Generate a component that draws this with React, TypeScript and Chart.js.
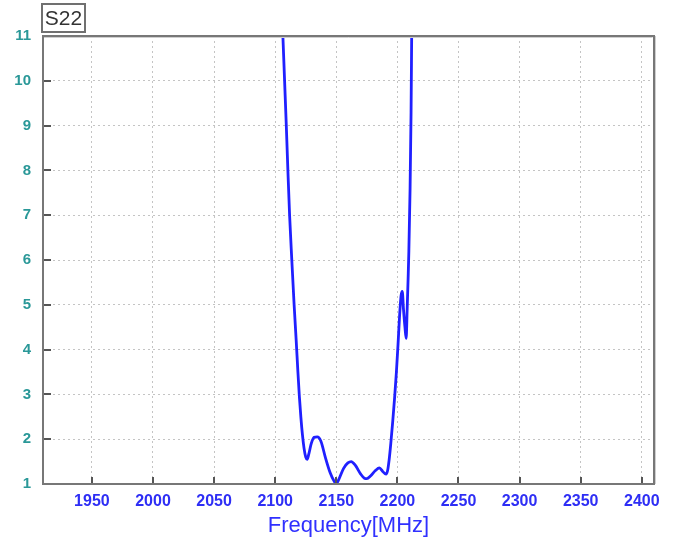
import React, { useEffect, useRef } from "react";
import { Chart, registerables } from "chart.js";

Chart.register(...registerables);

// Frequency (MHz) and S22 values
const freqMHz = [
  2104.8, 2106.3, 2107.7, 2109.1, 2110.4, 2111.8, 2113.6, 2115.5, 2117.2, 2118.6,
  2119.8, 2121.0, 2122.3, 2123.6, 2125.0, 2126.2, 2127.6, 2129.5, 2131.8, 2134.4,
  2137.5, 2141.0, 2145.0, 2148.5, 2150.0, 2152.0, 2156.0, 2159.5, 2162.2, 2165.5,
  2170.0, 2173.0, 2175.0, 2178.0, 2182.0, 2185.3, 2188.0, 2190.7, 2192.0, 2193.3,
  2194.6, 2196.2, 2197.8, 2199.2, 2200.5, 2201.8, 2203.0, 2204.0, 2205.0, 2206.2,
  2207.2, 2208.0, 2208.8, 2209.4, 2210.4, 2211.2, 2211.7, 2212.0,
];
const s22 = [
  12.0, 11.0, 10.0, 9.0, 8.0, 7.0, 6.0, 5.0, 4.2, 3.5,
  2.95, 2.5, 2.1, 1.8, 1.6, 1.55, 1.68, 1.9, 2.04, 2.05,
  1.95, 1.6, 1.25, 1.05, 1.01, 1.1, 1.35, 1.47, 1.5, 1.42,
  1.22, 1.13, 1.12, 1.18, 1.3, 1.36, 1.28, 1.22, 1.3, 1.55,
  1.9, 2.4, 2.95, 3.5, 4.1, 4.75, 5.2, 5.3, 4.9, 4.5,
  4.25, 4.9, 5.6, 6.2, 7.6, 9.3, 11.0, 12.0,
];
const xTicks = [1950, 2000, 2050, 2100, 2150, 2200, 2250, 2300, 2350, 2400];
const yTicks = [1, 2, 3, 4, 5, 6, 7, 8, 9, 10, 11];
const xRange = [1910, 2410];
const yRange = [1, 11];
const chartTitle = "S22";
const xAxisTitle = "Frequency[MHz]";

const FONT = "'Liberation Sans', Arial, sans-serif";

const decorPlugin = {
  id: "decor",
  afterDraw(chart: any) {
    const { ctx, chartArea } = chart;
    const { left, right, top, bottom } = chartArea;
    const xs = chart.scales.x;
    const ys = chart.scales.y;
    ctx.save();
    // inner tick marks
    ctx.strokeStyle = "#555";
    ctx.lineWidth = 2;
    ctx.beginPath();
    for (const v of yTicks) {
      const py = Math.round(ys.getPixelForValue(v));
      if (v === yRange[0] || v === yRange[1]) continue;
      ctx.moveTo(left, py);
      ctx.lineTo(left + 8, py);
    }
    for (const v of xTicks) {
      const px = Math.round(xs.getPixelForValue(v));
      ctx.moveTo(px, bottom);
      ctx.lineTo(px, bottom - 7);
    }
    ctx.stroke();
    // frame
    ctx.strokeStyle = "#cfcfcf";
    ctx.lineWidth = 1;
    ctx.beginPath();
    ctx.moveTo(left + 1, top + 1.5);
    ctx.lineTo(right - 1.5, top + 1.5);
    ctx.moveTo(right + 1.5, top);
    ctx.lineTo(right + 1.5, bottom);
    ctx.stroke();
    ctx.strokeStyle = "#777";
    ctx.lineWidth = 2;
    ctx.strokeRect(left, top, right - left, bottom - top);
    // title box
    ctx.fillStyle = "#fff";
    ctx.fillRect(42, 4, 43, 28);
    ctx.strokeStyle = "#707070";
    ctx.lineWidth = 2;
    ctx.strokeRect(42, 4, 43, 28);
    ctx.fillStyle = "#333";
    ctx.font = `21px ${FONT}`;
    ctx.textAlign = "center";
    ctx.textBaseline = "middle";
    ctx.fillText(chartTitle, 63.5, 19);
    ctx.restore();
  },
};

export default function App() {
  const ref = useRef<HTMLCanvasElement | null>(null);
  useEffect(() => {
    if (!ref.current) return;
    const points = freqMHz.map((f, i) => ({ x: f, y: s22[i] }));
    const chart = new Chart(ref.current, {
      type: "line",
      data: {
        datasets: [
          {
            data: points,
            borderColor: "#2020ff",
            borderWidth: 2.8,
            pointRadius: 0,
            cubicInterpolationMode: "monotone",
            clip: 0,
            fill: false,
          } as any,
        ],
      },
      plugins: [decorPlugin],
      options: {
        responsive: false,
        animation: false,
        devicePixelRatio: 1,
        layout: { padding: { top: 36, right: 19, left: 0, bottom: 0 } },
        plugins: { legend: { display: false }, tooltip: { enabled: false } },
        scales: {
          x: {
            type: "linear",
            min: xRange[0],
            max: xRange[1],
            afterBuildTicks: (s: any) => {
              s.ticks = xTicks.map((v) => ({ value: v }));
            },
            afterFit: (s: any) => {
              s.height = 60;
            },
            grid: { color: "#c4c4c4", lineWidth: 1, drawTicks: false, borderDash: [2, 3] } as any,
            border: { display: false, dash: [2, 3] },
            ticks: {
              color: "#2e2ef5",
              font: { family: FONT, size: 16, weight: "bold" },
              padding: 8,
              maxRotation: 0,
              autoSkip: false,
              callback: (v: any) => String(v),
            },
            title: {
              display: true,
              text: xAxisTitle,
              color: "#3030ff",
              font: { family: FONT, size: 22 },
              padding: { top: 0, bottom: 5 },
            },
          },
          y: {
            type: "linear",
            min: yRange[0],
            max: yRange[1],
            afterBuildTicks: (s: any) => {
              s.ticks = yTicks.map((v) => ({ value: v }));
            },
            afterFit: (s: any) => {
              s.width = 43;
            },
            grid: { color: "#c4c4c4", lineWidth: 1, drawTicks: false, borderDash: [2, 3] } as any,
            border: { display: false, dash: [2, 3] },
            ticks: {
              color: "#2a9898",
              font: { family: FONT, size: 15, weight: "bold" },
              padding: 12,
              autoSkip: false,
              callback: (v: any) => String(v),
            },
          },
        },
      } as any,
    });
    return () => chart.destroy();
  }, []);
  return (
    <div style={{ position: "absolute", left: 0, top: 0, width: 673, height: 544, background: "#fff" }}>
      <canvas ref={ref} width={673} height={544} style={{ display: "block" }} />
    </div>
  );
}
